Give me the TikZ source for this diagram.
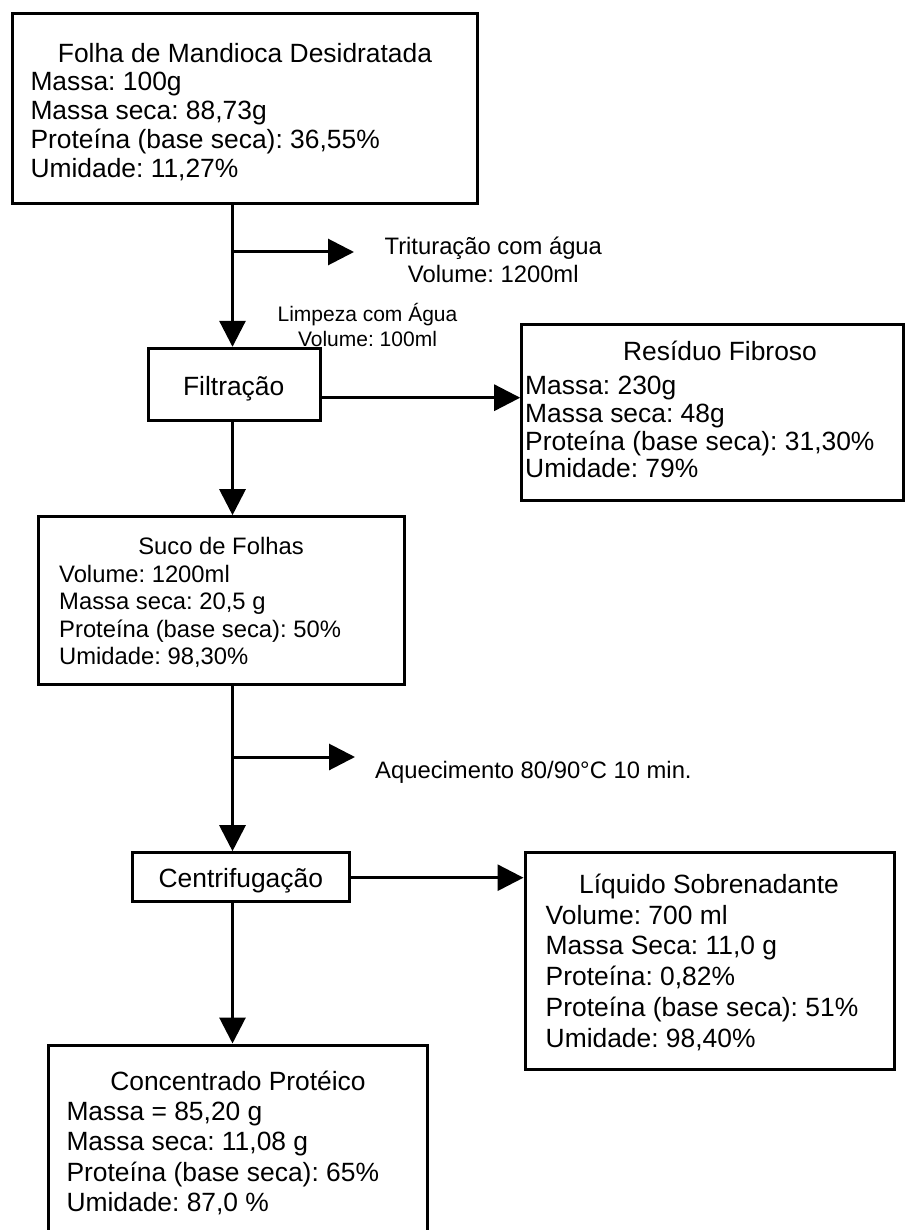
\documentclass[tikz,border=0pt]{standalone}
\usepackage{fontspec}
\setmainfont{Liberation Sans}
\usetikzlibrary{arrows.meta}
\frenchspacing
\begin{document}
\begin{tikzpicture}[x=1pt, y=-1pt,
  box/.style={draw, line width=3pt, inner sep=0pt, outer sep=1.5pt},
  flow/.style={line width=3pt, -{Triangle[length=26pt, width=26pt]}},
  big/.style={inner sep=0pt, font=\fontsize{26.4}{26.4}\selectfont},
  mid/.style={inner sep=0pt, font=\fontsize{23.8}{23.8}\selectfont},
  small/.style={inner sep=0pt, font=\fontsize{21}{21}\selectfont}
]
\clip (0,0) rectangle (905,1230);
\useasboundingbox (0,0) rectangle (905,1230);

% main column of the flow
\coordinate (col) at (232.5,0);

% boxes
\node[box, minimum width=465pt,   minimum height=190.5pt] (folha)  at (244.5,108.75) {};
\node[box, minimum width=172.4pt, minimum height=72.4pt]  (filtr)  at (234.5,384.5) {};
\node[box, minimum width=381.8pt, minimum height=176pt]   (res)    at (712.6,412) {};
\node[box, minimum width=365.7pt, minimum height=167.6pt] (suco)   at (221.15,600.5) {};
\node[box, minimum width=216.3pt, minimum height=48.3pt]  (centr)  at (240.85,876.85) {};
\node[box, minimum width=369.3pt, minimum height=216.6pt] (liq)    at (709.65,961) {};
\node[box, minimum width=379.4pt, minimum height=215pt]   (conc)   at (238,1152.5) {};

% Folha de Mandioca Desidratada
\node[big, anchor=base] (folha-t) at (245,63) {Folha de Mandioca Desidratada};
\foreach \s [count=\i] in {{Massa: 100g},{Massa seca: 88,73g},{Proteína (base seca): 36,55\%},{Umidade: 11,27\%}}
  \node[big, anchor=base west] (folha-l\i) at (30.3,{90.5+29*(\i-1)}) {\s};

% Filtração
\node[big, anchor=base] (filtr-t) at (233.7,395) {Filtração};

% Resíduo Fibroso
\node[big, anchor=base] (res-t) at (720,360) {Resíduo Fibroso};
\foreach \s [count=\i] in {{Massa: 230g},{Massa seca: 48g},{Proteína (base seca): 31,30\%},{Umidade: 79\%}}
  \node[big, anchor=base west] (res-l\i) at (525,{394.5+27.8*(\i-1)}) {\s};

% Suco de Folhas
\node[mid, anchor=base] (suco-t) at (221,554) {Suco de Folhas};
\foreach \s [count=\i] in {{Volume: 1200ml},{Massa seca: 20,5 g},{Proteína (base seca): 50\%},{Umidade: 98,30\%}}
  \node[mid, anchor=base west] (suco-l\i) at (59,{582+27.5*(\i-1)}) {\s};

% Centrifugação
\node[big, anchor=base] (centr-t) at (240.8,887.7) {Centrifugação};

% Líquido Sobrenadante
\node[big, anchor=base] (liq-t) at (709,893) {Líquido Sobrenadante};
\foreach \s [count=\i] in {{Volume: 700 ml},{Massa Seca: 11,0 g},{Proteína: 0,82\%},{Proteína (base seca): 51\%},{Umidade: 98,40\%}}
  \node[big, anchor=base west] (liq-l\i) at (545.5,{924+30.75*(\i-1)}) {\s};

% Concentrado Protéico
\node[big, anchor=base] (conc-t) at (238,1090) {Concentrado Protéico};
\foreach \s [count=\i] in {{Massa = 85,20 g},{Massa seca: 11,08 g},{Proteína (base seca): 65\%},{Umidade: 87,0 \%}}
  \node[big, anchor=base west] (conc-l\i) at (66.3,{1120+30.6*(\i-1)}) {\s};

% process labels
\node[mid, anchor=base] (trit-a) at (493.3,255) {Trituração com água};
\node[mid, anchor=base] (trit-b) at (493.3,282.7) {Volume: 1200ml};
\node[small, anchor=base] (limp-a) at (367.5,321) {Limpeza com Água};
\node[small, anchor=base] (limp-b) at (367.5,346) {Volume: 100ml};
\node[mid, anchor=base west] (aquec) at (375,778) {Aquecimento 80/90°C 10 min.};

% side arrow ends
\coordinate (trit) at (354,252);
\coordinate (heat) at (355,757);
\coordinate (ry) at (0,397.7);
\coordinate (ly) at (0,877.7);

% connectors
\draw[flow] (folha.south -| col) -- (filtr.north -| col);
\draw[flow] (col |- trit) -- (trit);
\draw[flow] (filtr.east |- ry) -- (res.west |- ry);
\draw[flow] (filtr.south -| col) -- (suco.north -| col);
\draw[flow] (suco.south -| col) -- (centr.north -| col);
\draw[flow] (col |- heat) -- (heat);
\draw[flow] (centr.east |- ly) -- (liq.west |- ly);
\draw[flow] (centr.south -| col) -- (conc.north -| col);
\end{tikzpicture}
\end{document}
